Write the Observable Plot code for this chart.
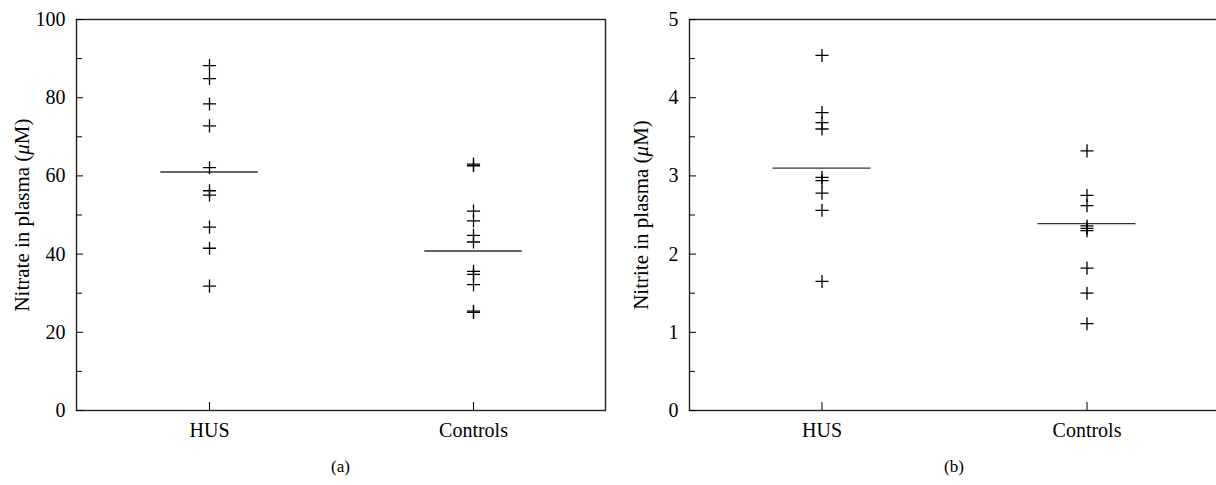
<!DOCTYPE html>
<html><head><meta charset="utf-8">
<script src="https://cdn.jsdelivr.net/npm/d3@7"></script>
<script src="https://cdn.jsdelivr.net/npm/@observablehq/plot@0.6"></script>
<style>
html,body{margin:0;padding:0;background:#fff;overflow:hidden;}
#wrap{position:relative;width:1216px;height:485px;overflow:hidden;font-family:"Liberation Serif","DejaVu Serif",serif;color:#000;}
.panel{position:absolute;top:0;}
.ylab{position:absolute;white-space:nowrap;font-size:21px;transform:translate(-50%,-50%) rotate(-90deg);}
.cap{position:absolute;top:467px;font-size:17px;transform:translate(-50%,-50%);}
</style></head><body><div id="wrap"></div>
<script>
const groups = ["HUS", "Controls"];
const nitrateHUS = [88.2, 84.9, 78.4, 72.8, 62.1, 56.2, 55.1, 46.9, 41.5, 31.8];
const nitrateControls = [63.0, 62.6, 51.0, 48.5, 44.8, 43.1, 35.6, 34.8, 32.2, 25.4, 25.1];
const nitrateMeans = [61.0, 40.8];
const nitriteHUS = [4.54, 3.81, 3.68, 3.60, 2.98, 2.94, 2.78, 2.56, 1.65];
const nitriteControls = [3.32, 2.75, 2.62, 2.36, 2.33, 2.30, 1.82, 1.50, 1.11];
const nitriteMeans = [3.10, 2.39];
const nitrateTicks = [0, 20, 40, 60, 80, 100];
const nitrateMinor = [10, 30, 50, 70, 90];
const nitriteTicks = [0, 1, 2, 3, 4, 5];
const nitriteMinor = [0.5, 1.5, 2.5, 3.5, 4.5];

const wrap = document.getElementById("wrap");

function panel({hus, ctrl, means, ticks, minor, label, caption, left, width, ml, mr, labelX}) {
  const data = [...hus.map(v => ({g: "HUS", v})), ...ctrl.map(v => ({g: "Controls", v}))];
  const meanData = groups.map((g, i) => ({g, v: means[i]}));
  const frameW = width - ml - mr;
  const inset = (frameW / 2 - 98) / 2;
  const chart = Plot.plot({
    width, height: 450,
    marginLeft: ml, marginRight: mr, marginTop: 19, marginBottom: 40,
    style: {fontFamily: "'Liberation Serif', 'DejaVu Serif', serif", fontSize: "20px", color: "#000", background: "white", overflow: "visible"},
    x: {type: "band", domain: groups, paddingInner: 0, paddingOuter: 0, label: null},
    y: {domain: [ticks[0], ticks[ticks.length - 1]], label: null},
    marks: [
      Plot.frame({stroke: "#222", strokeWidth: 1.4}),
      Plot.axisY({ticks, tickSize: 0, tickPadding: 11, label: null, tickFormat: d => String(d)}),
      Plot.axisY({ticks, tickSize: -7, tickFormat: () => "", label: null}),
      Plot.axisY({ticks: minor, tickSize: -6, tickFormat: () => "", label: null}),
      Plot.axisX({tickSize: 0, tickPadding: 12, label: null}),
      Plot.axisX({tickSize: -8, tickFormat: () => "", label: null}),
      Plot.tickY(meanData, {x: "g", y: "v", insetLeft: inset, insetRight: inset, stroke: "#333", strokeWidth: 1.4}),
      Plot.dot(data, {x: "g", y: "v", symbol: "plus", r: 4.3, stroke: "#000", strokeWidth: 1.3})
    ]
  });
  chart.classList.add("panel");
  chart.style.left = left + "px";
  wrap.appendChild(chart);
  const yl = document.createElement("div");
  yl.className = "ylab";
  yl.innerHTML = label;
  yl.style.left = labelX + "px";
  yl.style.top = "215px";
  wrap.appendChild(yl);
  const cap = document.createElement("div");
  cap.className = "cap";
  cap.textContent = caption;
  cap.style.left = (left + ml + frameW / 2) + "px";
  wrap.appendChild(cap);
}

panel({hus: nitrateHUS, ctrl: nitrateControls, means: nitrateMeans, ticks: nitrateTicks, minor: nitrateMinor,
  label: "Nitrate in plasma (<i>μ</i>M)", caption: "(a)", left: 0, width: 615, ml: 76, mr: 10, labelX: 22});
panel({hus: nitriteHUS, ctrl: nitriteControls, means: nitriteMeans, ticks: nitriteTicks, minor: nitriteMinor,
  label: "Nitrite in plasma (<i>μ</i>M)", caption: "(b)", left: 615, width: 610, ml: 74, mr: 6, labelX: 641});
</script></body></html>
